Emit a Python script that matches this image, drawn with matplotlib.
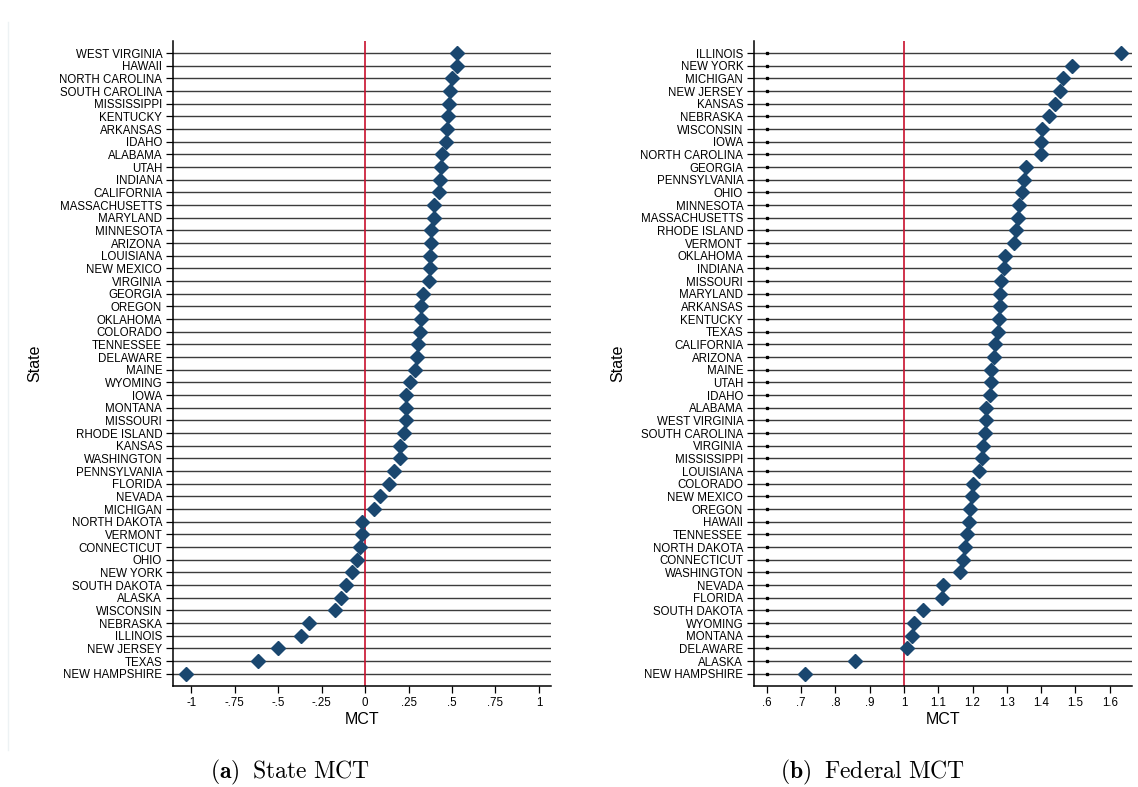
import numpy as np
import matplotlib
matplotlib.use("Agg")
import matplotlib.pyplot as plt
from matplotlib.lines import Line2D

plt.rcParams['font.family'] = ['Liberation Sans', 'DejaVu Sans']
plt.rcParams['mathtext.fontset'] = 'cm'

# (a) State MCT, top to bottom
state_names = ["WEST VIRGINIA", "HAWAII", "NORTH CAROLINA", "SOUTH CAROLINA", "MISSISSIPPI",
               "KENTUCKY", "ARKANSAS", "IDAHO", "ALABAMA", "UTAH", "INDIANA", "CALIFORNIA",
               "MASSACHUSETTS", "MARYLAND", "MINNESOTA", "ARIZONA", "LOUISIANA", "NEW MEXICO",
               "VIRGINIA", "GEORGIA", "OREGON", "OKLAHOMA", "COLORADO", "TENNESSEE", "DELAWARE",
               "MAINE", "WYOMING", "IOWA", "MONTANA", "MISSOURI", "RHODE ISLAND", "KANSAS",
               "WASHINGTON", "PENNSYLVANIA", "FLORIDA", "NEVADA", "MICHIGAN", "NORTH DAKOTA",
               "VERMONT", "CONNECTICUT", "OHIO", "NEW YORK", "SOUTH DAKOTA", "ALASKA", "WISCONSIN",
               "NEBRASKA", "ILLINOIS", "NEW JERSEY", "TEXAS", "NEW HAMPSHIRE"]
state_mct = [0.531, 0.527, 0.500, 0.487, 0.485, 0.479, 0.469, 0.464, 0.444, 0.435, 0.431, 0.427,
             0.397, 0.395, 0.381, 0.379, 0.372, 0.372, 0.370, 0.333, 0.322, 0.320, 0.314, 0.305,
             0.301, 0.289, 0.259, 0.236, 0.234, 0.234, 0.222, 0.203, 0.199, 0.169, 0.138, 0.088,
             0.054, -0.017, -0.017, -0.027, -0.044, -0.077, -0.111, -0.138, -0.174, -0.320,
             -0.368, -0.500, -0.613, -1.031]
state_ticks = [-1, -0.75, -0.5, -0.25, 0, 0.25, 0.5, 0.75, 1]
state_ticklabels = ["-1", "-.75", "-.5", "-.25", "0", ".25", ".5", ".75", "1"]

# (b) Federal MCT, top to bottom
fed_names = ["ILLINOIS", "NEW YORK", "MICHIGAN", "NEW JERSEY", "KANSAS", "NEBRASKA", "WISCONSIN",
             "IOWA", "NORTH CAROLINA", "GEORGIA", "PENNSYLVANIA", "OHIO", "MINNESOTA",
             "MASSACHUSETTS", "RHODE ISLAND", "VERMONT", "OKLAHOMA", "INDIANA", "MISSOURI",
             "MARYLAND", "ARKANSAS", "KENTUCKY", "TEXAS", "CALIFORNIA", "ARIZONA", "MAINE", "UTAH",
             "IDAHO", "ALABAMA", "WEST VIRGINIA", "SOUTH CAROLINA", "VIRGINIA", "MISSISSIPPI",
             "LOUISIANA", "COLORADO", "NEW MEXICO", "OREGON", "HAWAII", "TENNESSEE",
             "NORTH DAKOTA", "CONNECTICUT", "WASHINGTON", "NEVADA", "FLORIDA", "SOUTH DAKOTA",
             "WYOMING", "MONTANA", "DELAWARE", "ALASKA", "NEW HAMPSHIRE"]
fed_mct = [1.633, 1.490, 1.465, 1.454, 1.439, 1.422, 1.403, 1.400, 1.399, 1.355, 1.349, 1.345,
           1.335, 1.333, 1.328, 1.321, 1.295, 1.293, 1.284, 1.281, 1.279, 1.278, 1.273, 1.265,
           1.263, 1.254, 1.253, 1.251, 1.240, 1.240, 1.236, 1.230, 1.229, 1.219, 1.202, 1.199,
           1.193, 1.190, 1.185, 1.178, 1.171, 1.164, 1.113, 1.110, 1.055, 1.030, 1.025, 1.009,
           0.859, 0.713]
fed_ticks = [0.6, 0.7, 0.8, 0.9, 1.0, 1.1, 1.2, 1.3, 1.4, 1.5, 1.6]
fed_ticklabels = [".6", ".7", ".8", ".9", "1", "1.1", "1.2", "1.3", "1.4", "1.5", "1.6"]

navy = "#1a476f"
red = "#c8102e"

fig = plt.figure(figsize=(11.38, 7.87), dpi=100)
fig.patch.set_facecolor("white")


def dot_panel(ax, names, vals, ref, xlim, ticks, ticklabels, start_marks=False):
    y = np.arange(len(names))
    for yi in y:
        ax.axhline(yi, color="#3c3c3c", lw=1.0, zorder=1)
    ax.axvline(ref, color=red, lw=1.2, zorder=2)
    if start_marks:
        ax.plot(np.full(len(y), ticks[0]), y, ls="none", marker="s", ms=1.4, color="black", zorder=2)
    ax.plot(vals, y, ls="none", marker="D", ms=6.8, color=navy, mec=navy, zorder=3)
    ax.set_ylim(len(names) - 1 + 0.95, -0.95)
    ax.set_xlim(*xlim)
    ax.set_yticks(y)
    ax.set_yticklabels(names, fontsize=8.3)
    ax.set_xticks(ticks)
    ax.set_xticklabels(ticklabels, fontsize=8.3)
    ax.tick_params(axis="both", length=5, width=0.9, color="black", pad=3)
    ax.spines["top"].set_visible(False)
    ax.spines["right"].set_visible(False)
    ax.spines["left"].set_linewidth(1.1)
    ax.spines["bottom"].set_linewidth(1.1)
    ax.set_xlabel("MCT", fontsize=11.5, labelpad=2)
    ax.set_ylabel("State", fontsize=11.5, labelpad=0)


ax1 = fig.add_axes([0.1523, 0.1287, 0.3321, 0.8192])
dot_panel(ax1, state_names, state_mct, 0, (-1.103, 1.071), state_ticks, state_ticklabels)
ax1.yaxis.set_label_coords(-0.347, 0.5)

ax2 = fig.add_axes([0.6628, 0.1287, 0.3317, 0.8192])
dot_panel(ax2, fed_names, fed_mct, 1, (0.564, 1.664), fed_ticks, fed_ticklabels, start_marks=True)
ax2.yaxis.set_label_coords(-0.342, 0.5)

# faint outline of the left graph region
fig.add_artist(Line2D([8 / 1138, 8 / 1138], [1 - 22 / 787, 1 - 750 / 787],
                      transform=fig.transFigure, color="#edf2f4", lw=1))

fig.text(290 / 1138, 1 - 772 / 787, r"$\mathbf{(a)}\ \;\mathrm{State\ MCT}$",
         ha="center", va="center", fontsize=17)
fig.text(872 / 1138, 1 - 772 / 787, r"$\mathbf{(b)}\ \;\mathrm{Federal\ MCT}$",
         ha="center", va="center", fontsize=17)

fig.savefig("out.png", dpi=100, facecolor="white")
